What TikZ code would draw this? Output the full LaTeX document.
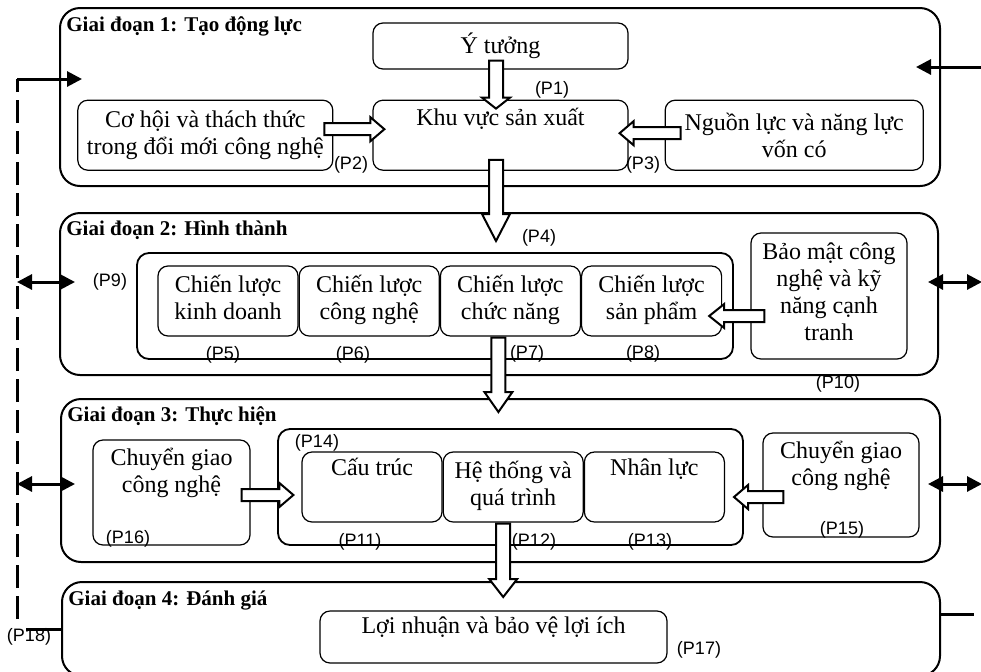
\documentclass[tikz,border=0pt]{standalone}
\usepackage{fontspec}
\setmainfont{Liberation Serif}
\newfontfamily\tagfont{Liberation Sans}
\usetikzlibrary{positioning,arrows.meta,calc}

% hollow block arrows: start, tip, head length
\newcommand{\vblock}[3]{%
  \draw[blockarrow] let \p1=(#1), \p2=(#2) in
    (\x1-3.5pt,\y1) -- (\x1-3.5pt,\y2+#3) -- (\x1-7pt,\y2+#3) -- (\x1,\y2)
    -- (\x1+7pt,\y2+#3) -- (\x1+3.5pt,\y2+#3) -- (\x1+3.5pt,\y1) -- cycle;}
\newcommand{\hblock}[3]{%
  \draw[blockarrow] let \p1=(#1), \p2=(#2) in
    (\x1,\y1-3pt) -- ({\x2-(#3)},\y1-3pt) -- ({\x2-(#3)},\y1-6pt) -- (\x2,\y1)
    -- ({\x2-(#3)},\y1+6pt) -- ({\x2-(#3)},\y1+3pt) -- (\x1,\y1+3pt) -- cycle;}

\tikzset{
  stagebox/.style={draw, line width=1pt, rounded corners=10pt, inner sep=0pt},
  groupbox/.style={draw, line width=0.9pt, rounded corners=6pt, inner sep=0pt},
  itembox/.style={draw, line width=0.6pt, rounded corners=5pt, align=center, inner sep=0pt,
    font=\fontsize{12}{13.5}\selectfont},
  stagetitle/.style={anchor=base west, inner sep=0pt, font=\fontsize{10.5}{12}\selectfont\bfseries},
  ptag/.style={inner sep=0pt, font=\tagfont\fontsize{9}{10}\selectfont},
  blockarrow/.style={draw, fill=white, line width=1pt, line join=miter},
  linkarrow/.style={line width=1.5pt, -{Triangle[length=7.5pt,width=7.5pt]}},
  bothways/.style={line width=1.5pt, {Triangle[length=7.5pt,width=7.5pt]}-{Triangle[length=7.5pt,width=7.5pt]}},
  loopline/.style={line width=1.5pt, dash pattern=on 11.5pt off 4pt},
}

\begin{document}
\begin{tikzpicture}[x=0.5pt, y=-0.5pt]
  \useasboundingbox (0,0) rectangle (981,671);

  % Stage 1
  \node[stagebox, minimum width=440pt, minimum height=89pt] (s1) at (500,97) {};
  \node[stagetitle] (t1) at ([shift={(7,24)}]s1.north west) {Giai đoạn 1: Tạo động lực};
  \node[itembox, minimum width=127.5pt, minimum height=23pt] (idea) at (500.5,46) {Ý tưởng};
  \node[itembox, minimum width=127.5pt, minimum height=35pt, below=15pt of idea] (prod) {Khu vực sản xuất\\[4.5pt]\mbox{}};
  \node[itembox, minimum width=127.5pt, minimum height=35pt, left=19.5pt of prod] (opp) {Cơ hội và thách thức\\trong đổi mới công nghệ};
  \node[itembox, minimum width=129pt, minimum height=35pt, right=18pt of prod] (res) {Nguồn lực và năng lực\\vốn có};

  % Stage 2
  \node[stagebox, minimum width=439pt, minimum height=81pt] (s2) at (499,294) {};
  \node[stagetitle] (t2) at ([shift={(7,23)}]s2.north west) {Giai đoạn 2: Hình thành};
  \node[groupbox, minimum width=298pt, minimum height=53pt] (strat) at (435,306) {};
  \node[itembox, minimum width=70pt, minimum height=35pt] (sbiz) at (228,301) {Chiến lược\\kinh doanh\strut};
  \node[itembox, minimum width=70pt, minimum height=35pt, right=0pt of sbiz] (stech) {Chiến lược\\công nghệ\strut};
  \node[itembox, minimum width=70pt, minimum height=35pt, right=0pt of stech] (sfunc) {Chiến lược\\chức năng\strut};
  \node[itembox, minimum width=70pt, minimum height=35pt, right=0pt of sfunc] (sprod) {Chiến lược\\sản phẩm\strut};
  \node[itembox, minimum width=78pt, minimum height=63pt] (secur) at (829,296) {Bảo mật công\\nghệ và kỹ\\năng cạnh\\tranh\strut};

  % Stage 3
  \node[stagebox, minimum width=439.5pt, minimum height=81.5pt] (s3) at (500.5,480.5) {};
  \node[stagetitle] (t3) at ([shift={(7,23)}]s3.north west) {Giai đoạn 3: Thực hiện};
  \node[groupbox, minimum width=232.5pt, minimum height=58pt] (impl) at (510.5,487) {};
  \node[itembox, minimum width=70pt, minimum height=35pt] (struct) at (372,487) {Cấu trúc\\[6.5pt]\mbox{}};
  \node[itembox, minimum width=70pt, minimum height=35pt, right=0pt of struct] (sys) {Hệ thống và\\quá trình\strut};
  \node[itembox, minimum width=70pt, minimum height=35pt, right=0pt of sys] (staff) {Nhân lực\\[6.5pt]\mbox{}};
  \node[itembox, minimum width=78.5pt, minimum height=52.5pt] (tin) at (171.5,492.5) {Chuyển giao\\công nghệ\\[8.5pt]\mbox{}};
  \node[itembox, minimum width=78pt, minimum height=52pt] (tout) at (841,485) {Chuyển giao\\công nghệ\\[8pt]\mbox{}};

  % Stage 4
  \node[stagebox, minimum width=439pt, minimum height=47pt] (s4) at (501,629) {};
  \node[stagetitle] (t4) at ([shift={(7,24)}]s4.north west) {Giai đoạn 4: Đánh giá};
  \node[itembox, minimum width=173.5pt, minimum height=26pt] (profit) at (493.5,637) {Lợi nhuận và bảo vệ lợi ích\\[-1.5pt]\mbox{}};

  % Block arrows
  \vblock{$(idea.south)+(-4.5,-9)$}{$(prod.north)+(-4.5,9)$}{5.5pt}
  \vblock{$(prod.south)+(-4.5,-11)$}{$(s2.north)+(-3,29)$}{13.5pt}
  \vblock{$(sfunc.south)+(-12,1)$}{$(s3.north)+(-4.5,14)$}{10pt}
  \vblock{$(sys.south)+(-10,1)$}{$(s4.north)+(1,16)$}{9pt}
  \hblock{$(opp.east)+(-9,-6)$}{$(prod.west)+(12,-6)$}{7pt}
  \hblock{$(res.west)+(16,-2)$}{$(prod.east)+(-9,-2)$}{-7pt}
  \hblock{$(secur.west)+(14,20)$}{$(sprod.east)+(-13,15)$}{-7.5pt}
  \hblock{$(tin.east)+(-9,2.5)$}{$(struct.west)+(-8,8)$}{7pt}
  \hblock{$(tout.west)+(21,12)$}{$(staff.east)+(9,10)$}{-7pt}

  % Feedback and outside links
  \coordinate (fbtop) at ($(s1.west)+(-42,-18)$);
  \coordinate (fbbot) at ($(fbtop |- s4.west)+(0,-10)$);
  \draw[loopline] (fbbot) -- (fbtop);
  \draw[linkarrow] (fbtop) -- ($(s1.west)+(23,-18)$);
  \draw[line width=1.5pt] (s4.west) -- ++(-35,0);
  \draw[bothways] ($(s2.west)+(-42,-12)$) -- ($(s2.west)+(16,-12)$);
  \draw[bothways] ($(s3.west)+(-43,3.5)$) -- ($(s3.west)+(15,3.5)$);
  \draw[bothways] ($(s2.east)+(-11,-12)$) -- ($(s2.east)+(43,-12)$);
  \draw[bothways] ($(s3.east)+(-13,3.5)$) -- ($(s3.east)+(41,3.5)$);
  \draw[linkarrow] ($(s1.east)+(41,-30)$) -- ($(s1.east)+(-25,-30)$);
  \draw[line width=1.5pt] ($(s4.east)+(0,-15)$) -- ++(33,0);

  % Tags
  \node[ptag] (p1) at (552,90) {(P1)};
  \node[ptag] (p2) at (351,165) {(P2)};
  \node[ptag] (p3) at (643,165) {(P3)};
  \node[ptag] (p4) at (539,238) {(P4)};
  \node[ptag] (p5) at (223,355) {(P5)};
  \node[ptag] (p6) at (353,355) {(P6)};
  \node[ptag] (p7) at (527,354) {(P7)};
  \node[ptag] (p8) at (643,354) {(P8)};
  \node[ptag] (p9) at (110,282) {(P9)};
  \node[ptag] (p10) at (838,384) {(P10)};
  \node[ptag] (p11) at (360,542) {(P11)};
  \node[ptag] (p12) at (534,542) {(P12)};
  \node[ptag] (p13) at (650,542) {(P13)};
  \node[ptag] (p14) at (317,443) {(P14)};
  \node[ptag] (p15) at (842,530) {(P15)};
  \node[ptag] (p16) at (128,539) {(P16)};
  \node[ptag] (p17) at (699,650) {(P17)};
  \node[ptag] (p18) at (29,637) {(P18)};
\end{tikzpicture}
\end{document}
